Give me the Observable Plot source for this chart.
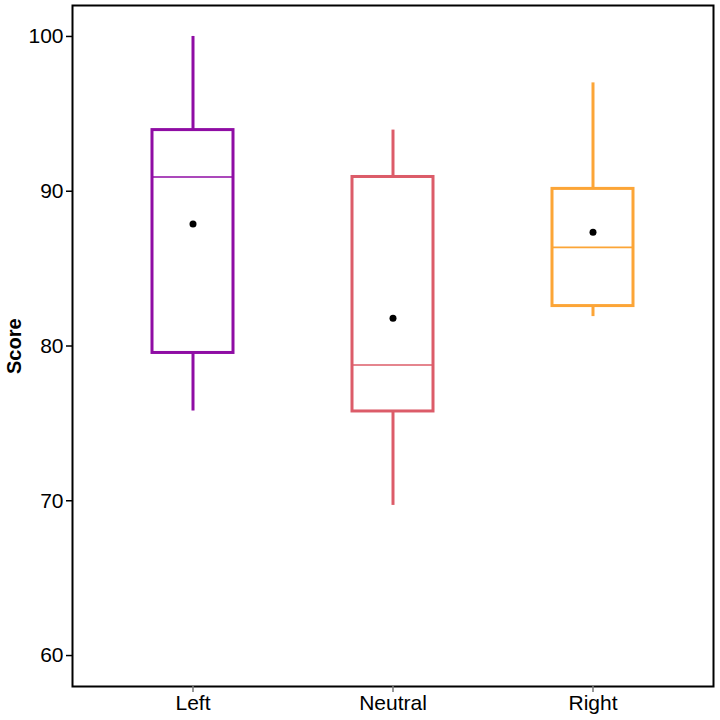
<!DOCTYPE html>
<html>
<head>
<meta charset="utf-8">
<script src="https://cdn.jsdelivr.net/npm/d3@7"></script>
<script src="https://cdn.jsdelivr.net/npm/@observablehq/plot@0.6"></script>
<style>
  html, body { margin: 0; padding: 0; background: white; }
</style>
</head>
<body>
<div id="chart"></div>
<script>
const categories = ["Left", "Neutral", "Right"];
const whiskerLow = [75.8, 69.7, 81.9];
const q1 = [79.55, 75.77, 82.58];
const median = [90.92, 78.77, 86.37];
const q3 = [93.95, 90.92, 90.15];
const whiskerHigh = [100, 93.95, 97];
const mean = [87.89, 81.8, 87.35];
const colors = ["#8F0DA4", "#DC5C69", "#FCA537"];
const yTicks = [60, 70, 80, 90, 100];

const data = categories.map((c, i) => ({
  cat: c, lo: whiskerLow[i], q1: q1[i], med: median[i], q3: q3[i], hi: whiskerHigh[i], mean: mean[i]
}));

const plot = Plot.plot({
  width: 720,
  height: 720,
  marginLeft: 72,
  marginTop: 5,
  marginRight: 7,
  marginBottom: 34,
  style: { fontFamily: "'Liberation Sans', Arial, sans-serif", fontSize: "21px", color: "black", background: "white" },
  x: { type: "band", domain: categories, paddingInner: 0.597, paddingOuter: 0.3955, label: null },
  y: { domain: [58, 102], label: null },
  color: { domain: categories, range: colors },
  marks: [
    Plot.frame({ stroke: "black", strokeWidth: 2 }),
    Plot.axisY({ ticks: yTicks, tickSize: 6, tickPadding: 3, label: null, fontSize: 21, strokeWidth: 1.5 }),
    Plot.axisX({ tickSize: 6, tickPadding: 3, label: null, fontSize: 21, stroke: "#777", strokeWidth: 1.5 }),
    Plot.ruleX(data, { x: "cat", y1: "q3", y2: "hi", stroke: "cat", strokeWidth: 3 }),
    Plot.ruleX(data, { x: "cat", y1: "lo", y2: "q1", stroke: "cat", strokeWidth: 3 }),
    Plot.barY(data, { x: "cat", y1: "q1", y2: "q3", fill: "white", stroke: "cat", strokeWidth: 3 }),
    Plot.tickY(data, { x: "cat", y: "med", stroke: "cat", strokeWidth: 1.6 }),
    Plot.dot(data, { x: "cat", y: "mean", r: 3.5, fill: "black", stroke: "none" }),
    Plot.text(["Score"], { frameAnchor: "left", dx: -58, dy: 28, rotate: -90, fontWeight: "bold", fontSize: 20, fill: "black" })
  ]
});
document.getElementById("chart").appendChild(plot);
</script>
</body>
</html>
